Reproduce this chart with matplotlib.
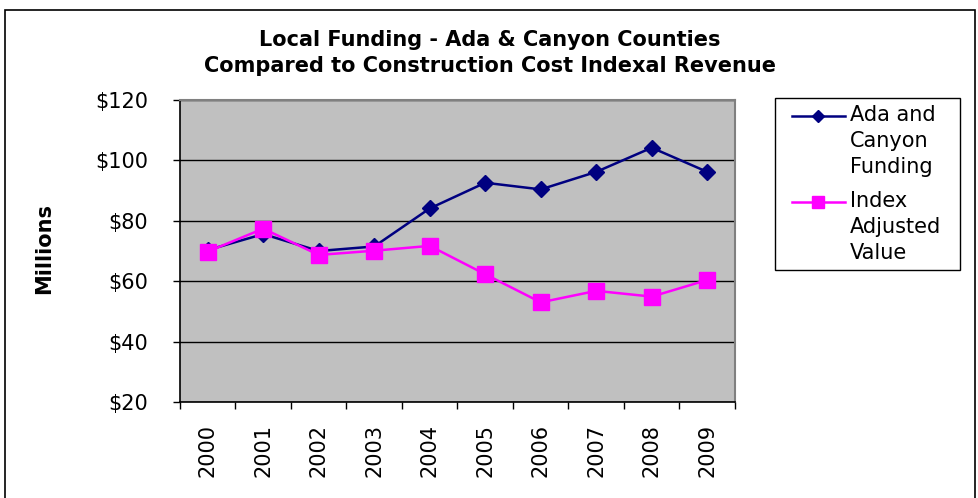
import matplotlib
matplotlib.use("Agg")
import matplotlib.pyplot as plt
from matplotlib.patches import Rectangle
from matplotlib.lines import Line2D
import numpy as np

years = ["2000", "2001", "2002", "2003", "2004", "2005", "2006", "2007", "2008", "2009"]
ada_canyon = [70.3, 75.6, 70.0, 71.5, 84.1, 92.6, 90.4, 96.2, 104.2, 96.2]
index_adjusted = [69.8, 77.4, 68.7, 70.1, 71.7, 62.3, 53.0, 56.8, 54.9, 60.4]
y_ticks = [20, 40, 60, 80, 100, 120]
series_labels = ["Ada and\nCanyon\nFunding", "Index\nAdjusted\nValue"]

plt.rcParams['font.family'] = ['DejaVu Sans']

W, H = 979, 498
fig = plt.figure(figsize=(W / 100, H / 100), dpi=100)
fig.patch.set_facecolor('white')

def fx(px):
    return px / W

def fy(py):
    return 1 - py / H

# outer chart border
fig.add_artist(Rectangle((fx(5), -0.05), (975 - 5) / W, fy(10) + 0.05,
                         transform=fig.transFigure, fill=False,
                         edgecolor='black', linewidth=1.2))

ax = fig.add_axes([fx(180), fy(402), (735 - 180) / W, (402 - 100) / H])
ax.set_facecolor('#C0C0C0')

styles = [
    dict(color='#000080', linewidth=1.8, marker='D', markersize=8),
    dict(color='#FF00FF', linewidth=1.8, marker='s', markersize=11),
]

x = np.arange(len(years))
ax.plot(x, ada_canyon, zorder=3, **styles[0])
ax.plot(x, index_adjusted, zorder=4, **styles[1])

ax.set_xlim(-0.5, len(years) - 0.5)
ax.set_ylim(20, 120)
ax.set_yticks(y_ticks)
ax.set_yticklabels([f"${v}" for v in y_ticks], fontsize=15)
ax.yaxis.grid(True, color='black', linewidth=1)
ax.set_axisbelow(True)

ax.set_xticks(np.arange(-0.5, len(years), 1.0))
ax.set_xticklabels([])
ax.set_xticks(x, minor=True)
ax.set_xticklabels(years, minor=True, rotation=90, fontsize=15)
ax.tick_params(axis='x', which='minor', length=0, pad=16)
ax.tick_params(axis='x', which='major', length=5, width=1, direction='out', colors='black')
ax.tick_params(axis='y', length=5, width=1, direction='out', pad=18)

for s in ['top', 'right']:
    ax.spines[s].set_color('#808080')
    ax.spines[s].set_linewidth(1.5)
for s in ['left', 'bottom']:
    ax.spines[s].set_color('black')
    ax.spines[s].set_linewidth(1.2)

fig.text(fx(490), fy(53),
         "Local Funding - Ada & Canyon Counties\nCompared to Construction Cost Indexal Revenue",
         ha='center', va='center', fontsize=15, fontweight='bold', linespacing=1.35)

fig.text(fx(44), fy(248), "Millions", rotation=90, ha='center', va='center',
         fontsize=15, fontweight='bold')

# legend (drawn manually to align handles with first text line)
fig.add_artist(Rectangle((fx(775), fy(270)), (960 - 775) / W, (270 - 98) / H,
                         transform=fig.transFigure, facecolor='white',
                         edgecolor='black', linewidth=1.0))
entry_tops = [116, 202]
for st, lab, ty in zip(styles, series_labels, entry_tops):
    fig.add_artist(Line2D([fx(792), fx(845)], [fy(ty), fy(ty)], transform=fig.transFigure,
                          color=st['color'], linewidth=st['linewidth']))
    fig.add_artist(Line2D([fx(818.5)], [fy(ty)], transform=fig.transFigure,
                          color=st['color'], marker=st['marker'],
                          markersize=st['markersize'] * 0.8, linestyle='none'))
    fig.text(fx(850), fy(ty - 11), lab, ha='left', va='top', fontsize=15,
             linespacing=1.36)

fig.savefig('out.png', dpi=100)
